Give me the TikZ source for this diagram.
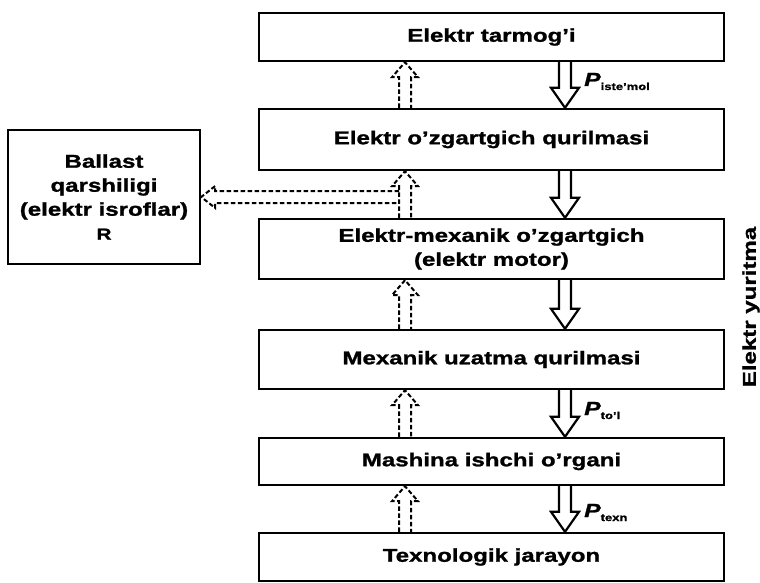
\documentclass[tikz,border=0pt]{standalone}
\usepackage{fontspec}
\setmainfont{Liberation Sans}[FakeStretch=1.3,BoldFeatures={FakeBold=1.3},BoldItalicFeatures={FakeBold=1.3}]
\usetikzlibrary{calc}
\newcommand\plab[1]{\textbf{\textit{P}}\raisebox{-4pt}{\fontsize{10}{10}\selectfont\bfseries #1}}
\newcommand\powarrow[2]{%
  \draw[powline] ($(#1.south -| dx)+(-6,0)$) -- ($(#2.north -| dx)+(-6,-20)$)
    -- ($(#2.north -| dx)+(-14,-20)$) -- (#2.north -| dx)
    -- ($(#2.north -| dx)+(14,-20)$) -- ($(#2.north -| dx)+(6,-20)$)
    -- ($(#1.south -| dx)+(6,0)$);}
\newcommand\feedarrow[2]{%
  \draw[feedline] ($(#1.north -| ux)+(-6,0)$) -- ($(#2.south -| ux)+(-6,15)$)
    -- ($(#2.south -| ux)+(-13,15)$) -- (#2.south -| ux)
    -- ($(#2.south -| ux)+(13,15)$) -- ($(#2.south -| ux)+(6,15)$)
    -- ($(#1.north -| ux)+(6,0)$);}
\begin{document}
\begin{tikzpicture}[x=1pt,y=-1pt,
  box/.style={draw, line width=2.4pt, minimum width=465pt, inner sep=0pt,
    align=center, font=\fontsize{18.5}{24}\selectfont\bfseries},
  powline/.style={draw, line width=2.2pt, line join=miter},
  feedline/.style={draw, line width=2pt, dash pattern=on 4.5pt off 2.5pt},
  lab/.style={anchor=base west, inner sep=0pt, font=\fontsize{19}{20}\selectfont}]
\useasboundingbox (0,0) rectangle (760,583);
\coordinate (dx) at (565,0);
\coordinate (ux) at (405,0);
\node[box, minimum height=48pt] (b1) at (491.5,37) {Elektr tarmog’i};
\node[box, minimum height=61pt] (b2) at (491.5,139.5) {Elektr o’zgartgich qurilmasi};
\node[box, minimum height=60pt] (b3) at (491.5,249) {Elektr-mexanik o’zgartgich\\(elektr motor)};
\node[box, minimum height=59pt] (b4) at (491.5,359.5) {Mexanik uzatma qurilmasi};
\node[box, minimum height=47pt] (b5) at (491.5,461.5) {Mashina ishchi o’rgani};
\node[box, minimum height=48pt] (b6) at (491.5,557) {Texnologik jarayon};
\node[box, minimum width=192pt, minimum height=134pt] (bal) at (104,197)
  {Ballast\\qarshiligi\\(elektr isroflar)\\{\fontsize{16}{24}\selectfont R}};
\node[rotate=90, inner sep=0pt, font=\fontsize{18.5}{20}\selectfont\bfseries] (ey) at (751,307) {Elektr yuritma};
\powarrow{b1}{b2}
\powarrow{b2}{b3}
\powarrow{b3}{b4}
\powarrow{b4}{b5}
\powarrow{b5}{b6}
\feedarrow{b2}{b1}
\feedarrow{b3}{b2}
\feedarrow{b4}{b3}
\feedarrow{b5}{b4}
\feedarrow{b6}{b5}
\draw[feedline] ($(ux |- bal.east)+(-6,-6)$) -- ($(bal.east)+(14,-6)$)
  -- ($(bal.east)+(14,-11)$) -- (bal.east) -- ($(bal.east)+(14,11)$)
  -- ($(bal.east)+(14,6)$) -- ($(ux |- bal.east)+(-6,6)$);
\node[lab] (p1) at (584,86) {\plab{iste’mol}};
\node[lab] (p2) at (584,415) {\plab{to’l}};
\node[lab] (p3) at (584,517) {\plab{texn}};
\end{tikzpicture}
\end{document}
